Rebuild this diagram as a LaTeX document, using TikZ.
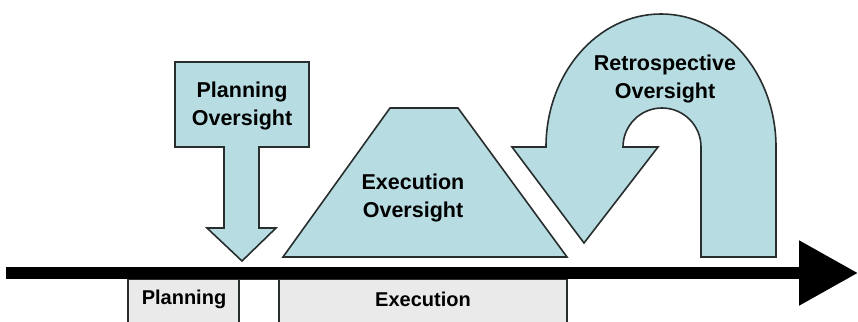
\documentclass[tikz,border=0pt]{standalone}
\usepackage{fontspec}
\setmainfont{Liberation Sans}
\usetikzlibrary{arrows.meta}
\definecolor{ovfill}{RGB}{183,221,226}
\definecolor{ovline}{RGB}{40,45,45}
\definecolor{phfill}{RGB}{234,234,234}
\tikzset{
  oversight/.style={fill=ovfill, draw=ovline, line width=1.6pt, line join=miter},
  phasebox/.style={fill=phfill, draw=ovline, line width=1.6pt},
  bigtxt/.style={font=\bfseries\fontsize{21.5}{28.5}\selectfont, align=center, text=black},
  smalltxt/.style={font=\bfseries\fontsize{20}{24}\selectfont, text=black},
}
\begin{document}
\begin{tikzpicture}[x=1pt,y=-1pt]
\useasboundingbox (0,0) rectangle (858,321);
\clip (0,0) rectangle (858,321);
% phase boxes
\draw[phasebox] (128,279) rectangle (239,335);
\draw[phasebox, fill=white] (239,279) rectangle (279,335);
\draw[phasebox] (279,279) rectangle (567,335);
\node[smalltxt] (planning) at (184,299) {Planning};
\node[smalltxt] (execution) at (423,299) {Execution};
% timeline
\coordinate (tl0) at (6,273);
\coordinate (tl1) at (858,273);
\draw[line width=12pt, -{Triangle[length=59pt,width=62pt]}] (tl0) -- (tl1);
% planning oversight arrow
\draw[oversight] (175,62) -- (309,62) -- (309,147) -- (259,147) -- (259,228) -- (276,228)
  -- (242,261) -- (207,228) -- (224,228) -- (224,147) -- (175,147) -- cycle;
\node[bigtxt] (po) at (242,106) {Planning\\Oversight};
% execution oversight trapezoid
\draw[oversight] (283,257) -- (390,108) -- (458,108) -- (567,257) -- cycle;
\node[bigtxt] (eo) at (413,198) {Execution\\Oversight};
% retrospective oversight U-turn arrow
\draw[oversight] (512,147) -- (546,147)
  arc[start angle=180, end angle=0, x radius=115pt, y radius=133pt]
  -- (776,257) -- (701,257) -- (701,147)
  arc[start angle=0, end angle=180, radius=39pt]
  -- (658,147) -- (584,243) -- cycle;
\node[bigtxt] (ro) at (665,79) {Retrospective\\Oversight};
\end{tikzpicture}
\end{document}
